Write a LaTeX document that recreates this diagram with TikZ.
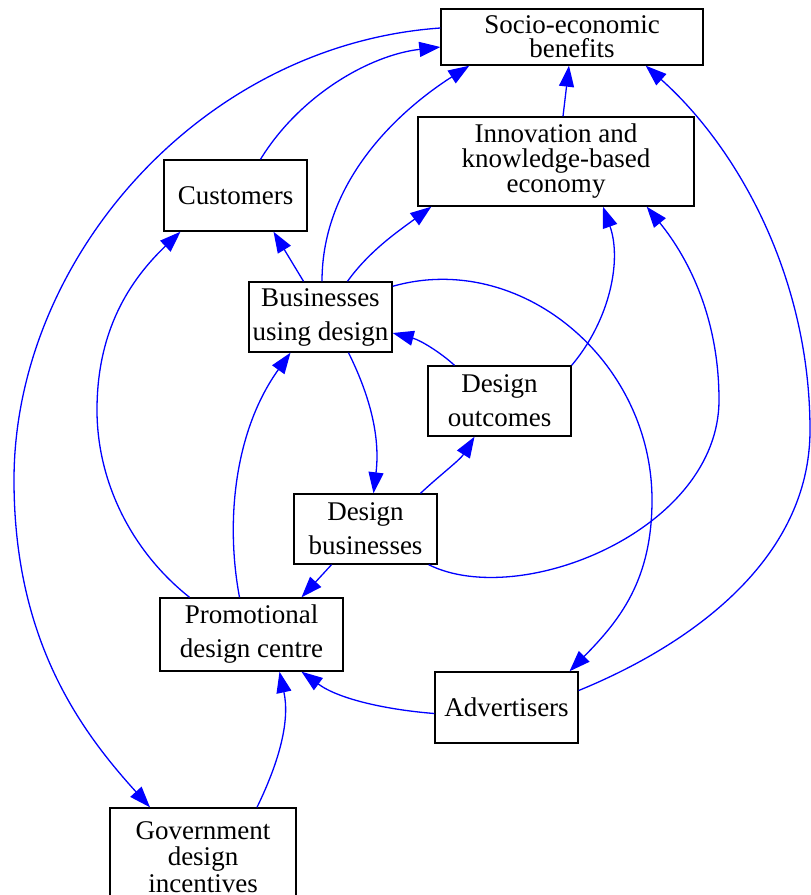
\documentclass[tikz,border=0pt]{standalone}
\usepackage{fontspec}
\setmainfont{Liberation Serif}
\usetikzlibrary{arrows.meta,calc}
\begin{document}
\begin{tikzpicture}[x=1pt,y=-1pt,
  box/.style={draw=black, line width=1.4pt, rectangle, inner sep=0pt,
    align=center, font=\fontsize{27}{34}\selectfont},
  edge/.style={draw=blue, line width=1.3pt,
    -{Triangle[length=21pt,width=15pt]}},
]
\useasboundingbox (0,0) rectangle (811,895);
\clip (0,0) rectangle (811,895);

% nodes
\node[box, minimum width=262pt, minimum height=56pt,
  font=\fontsize{27}{24}\selectfont] (seb) at (572,37) {Socio-economic\\benefits};
\node[box, minimum width=276pt, minimum height=89pt,
  font=\fontsize{27}{25}\selectfont] (inn) at (556,161.5) {Innovation and\\knowledge-based\\economy};
\node[box, minimum width=143pt, minimum height=71pt] (cus) at (235.5,195.5) {Customers};
\node[box, minimum width=143pt, minimum height=70pt] (bud) at (320.5,317) {Businesses\\using design};
\node[box, minimum width=143pt, minimum height=70pt] (dout) at (499.5,401) {Design\\outcomes};
\node[box, minimum width=143pt, minimum height=70pt] (dbus) at (365.5,529) {Design\\businesses};
\node[box, minimum width=183pt, minimum height=73pt] (pdc) at (251.5,634.5) {Promotional\\design centre};
\node[box, minimum width=143pt, minimum height=71pt] (adv) at (506.5,707.5) {Advertisers};
\node[box, minimum width=186pt, minimum height=98pt,
  font=\fontsize{27}{26.5}\selectfont] (gov) at (203,857) {Government\\design\\incentives};

% connectors
\draw[edge] ($(cus.north)+(25,0)$) .. controls (300,95) and (370,55) .. ($(seb.west)+(0,10)$);
\draw[edge] ($(bud.north)+(1.5,0)$) .. controls (322,180) and (400,110) .. ($(seb.south west)+(29,0)$);
\draw[edge] ($(inn.north)+(7,0)$) -- ($(seb.south)+(-3,0)$);
\draw[edge] ($(seb.west)+(0,-9)$) .. controls (200,45) and (14,260) .. (14,480)
  .. controls (14,640) and (80,730) .. ($(gov.north)+(-53,0)$);
\draw[edge] ($(adv.east)+(0,-17)$) .. controls (690,645) and (810,560) .. (810,430)
  .. controls (810,280) and (740,150) .. ($(seb.south east)+(-58,0)$);
\draw[edge] ($(bud.north)+(-17,0)$) -- ($(cus.south)+(38,0)$);
\draw[edge] ($(bud.north)+(27,0)$) .. controls (370,250) and (400,230) .. ($(inn.south west)+(14,0)$);
\draw[edge] (dout.north east) .. controls (610,320) and (622,260) .. ($(inn.south)+(47,0)$);
\draw[edge] ($(dbus.south east)+(-9,0)$) .. controls (520,610) and (719,530) .. (719,400)
  .. controls (719,320) and (690,260) .. ($(inn.south east)+(-48,0)$);
\draw[edge] ($(pdc.north)+(-62,0)$) .. controls (130,550) and (97,480) .. (97,410)
  .. controls (97,330) and (130,280) .. ($(cus.south)+(-55,0)$);
\draw[edge] ($(pdc.north)+(-12,0)$) .. controls (225,520) and (235,430) .. ($(bud.south)+(-30,0)$);
\draw[edge] ($(bud.south)+(28,0)$) .. controls (372,400) and (380,440) .. ($(dbus.north)+(8,0)$);
\draw[edge] ($(dbus.north)+(55,0)$) .. controls (440,475) and (460,460) .. ($(dout.south)+(-25,0)$);
\draw[edge] ($(dout.north)+(-45,0)$) .. controls (440,352) and (420,340) .. ($(bud.east)+(0,16)$);
\draw[edge] ($(bud.north east)+(0,5)$) .. controls (520,250) and (652,360) .. (652,500)
  .. controls (652,580) and (620,620) .. ($(adv.north)+(63,0)$);
\draw[edge] ($(dbus.south)+(-34,0)$) -- ($(pdc.north)+(50,0)$);
\draw[edge] ($(adv.west)+(0,6)$) .. controls (390,710) and (340,700) .. ($(pdc.south)+(50,0)$);
\draw[edge] ($(gov.north)+(54,0)$) .. controls (280,760) and (290,720) .. ($(pdc.south)+(28,0)$);
\end{tikzpicture}
\end{document}
